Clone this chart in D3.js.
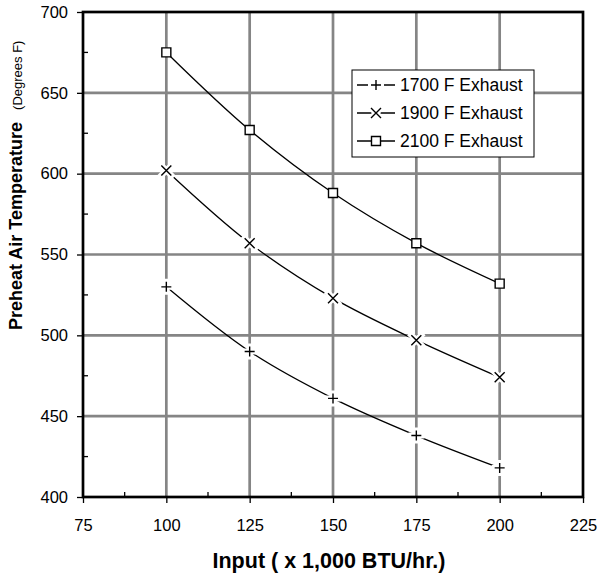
<!DOCTYPE html>
<html><head><meta charset="utf-8">
<script src="https://cdn.jsdelivr.net/npm/d3@7"></script>
<style>body{margin:0;background:#fff}svg{display:block;font-family:Arial,"Liberation Sans",sans-serif}</style>
</head><body>
<script>
const inputs = [100, 125, 150, 175, 200];
const seriesNames = ["1700 F Exhaust", "1900 F Exhaust", "2100 F Exhaust"];
const series1700 = [530, 490, 461, 438, 418];
const series1900 = [602, 557, 523, 497, 474];
const series2100 = [675, 627, 588, 557, 532];
const xTicks = [75, 100, 125, 150, 175, 200, 225];
const yTicks = [400, 450, 500, 550, 600, 650, 700];
const markerKinds = ["plus", "cross", "square"];

const W = 599, H = 577;
const L = 83, R = 583, T = 12, B = 497;
const svg = d3.select("body").append("svg").attr("width", W).attr("height", H);

const x = d3.scaleLinear().domain([75, 225]).range([L, R]);
const y = d3.scaleLinear().domain([400, 700]).range([B, T]);

// grid
const grid = svg.append("g").attr("stroke", "#858585").attr("stroke-width", 2.7);
xTicks.slice(1, -1).forEach(v => grid.append("line").attr("x1", x(v)).attr("x2", x(v)).attr("y1", T).attr("y2", B));
yTicks.slice(1, -1).forEach(v => grid.append("line").attr("x1", L).attr("x2", R).attr("y1", y(v)).attr("y2", y(v)));

// axes
const xAxis = d3.axisBottom(x).tickValues(xTicks).tickSize(6).tickPadding(16).tickFormat(d3.format("d"));
const gx = svg.append("g").attr("transform", `translate(0,${B})`).call(xAxis);
const yAxis = d3.axisLeft(y).tickValues(yTicks).tickSize(6).tickPadding(9).tickFormat(d3.format("d"));
const gy = svg.append("g").attr("transform", `translate(${L},0)`).call(yAxis);
[gx, gy].forEach(g => {
  g.select(".domain").remove();
  g.selectAll(".tick line").attr("stroke", "#000").attr("stroke-width", 1.3);
  g.selectAll(".tick text").attr("fill", "#000").style("font-size", "16.5px").style("font-family", "Arial, 'Liberation Sans', sans-serif");
});
gx.selectAll(".tick text").attr("dy", "0.71em");

// minor ticks (inside)
const xMinor = xTicks.slice(0, -1).map(v => v + 12.5);
const yMinor = yTicks.slice(0, -1).map(v => v + 25);
const minor = svg.append("g").attr("stroke", "#000").attr("stroke-width", 1.3);
xMinor.forEach(v => minor.append("line").attr("x1", x(v)).attr("x2", x(v)).attr("y1", B).attr("y2", B - 5));
yMinor.forEach(v => minor.append("line").attr("x1", L).attr("x2", L + 5).attr("y1", y(v)).attr("y2", y(v)));

// plot frame
svg.append("rect").attr("x", L).attr("y", T).attr("width", R - L).attr("height", B - T)
  .attr("fill", "none").attr("stroke", "#000").attr("stroke-width", 2.7);

// lines
const data = [series1700, series1900, series2100];
const line = d3.line().x((d, i) => x(inputs[i])).y(d => y(d)).curve(d3.curveCatmullRom.alpha(0.5));
data.forEach(vals => {
  svg.append("path").attr("d", line(vals)).attr("fill", "none").attr("stroke", "#000").attr("stroke-width", 1.3);
});

function markerPath(kind) {
  if (kind === "plus") return "M-5,0H5M0,-5V5";
  if (kind === "cross") return "M-5,-5L5,5M-5,5L5,-5";
  return "M-4.5,-4.5H4.5V4.5H-4.5Z";
}
function drawMarker(g, kind, cx, cy) {
  const p = markerPath(kind);
  if (kind === "square") {
    g.append("path").attr("d", p).attr("transform", `translate(${cx},${cy})`)
      .attr("fill", "#fff").attr("stroke", "#000").attr("stroke-width", 1.4);
  } else {
    g.append("path").attr("d", p).attr("transform", `translate(${cx},${cy})`)
      .attr("fill", "none").attr("stroke", "#fff").attr("stroke-width", 6).attr("stroke-linecap", "square");
    g.append("path").attr("d", p).attr("transform", `translate(${cx},${cy})`)
      .attr("fill", "none").attr("stroke", "#000").attr("stroke-width", 1.4);
  }
}
const mg = svg.append("g");
data.forEach((vals, s) => vals.forEach((v, i) => drawMarker(mg, markerKinds[s], x(inputs[i]), y(v))));

// legend
const lg = svg.append("g").attr("transform", "translate(352,70)");
lg.append("rect").attr("width", 182).attr("height", 87).attr("fill", "#fff").attr("stroke", "#000").attr("stroke-width", 1);
seriesNames.forEach((name, i) => {
  const cy = 15 + i * 28;
  lg.append("line").attr("x1", 5).attr("x2", 43).attr("y1", cy).attr("y2", cy).attr("stroke", "#000").attr("stroke-width", 1.3);
  drawMarker(lg, markerKinds[i], 24, cy);
  lg.append("text").attr("x", 48).attr("y", cy + 6).text(name).style("font-size", "17.5px").attr("fill", "#000");
});

// axis titles
svg.append("text").attr("x", 329).attr("y", 568).attr("text-anchor", "middle")
  .style("font-size", "21.5px").style("font-weight", "bold").text("Input ( x 1,000 BTU/hr.)");
const yt = svg.append("text").attr("transform", "translate(22,330) rotate(-90)").attr("text-anchor", "start");
yt.append("tspan").style("font-size", "18px").style("font-weight", "bold").text("Preheat Air Temperature");
yt.append("tspan").attr("dx", 12).style("font-size", "13px").text("(Degrees F)");
</script>
</body></html>
